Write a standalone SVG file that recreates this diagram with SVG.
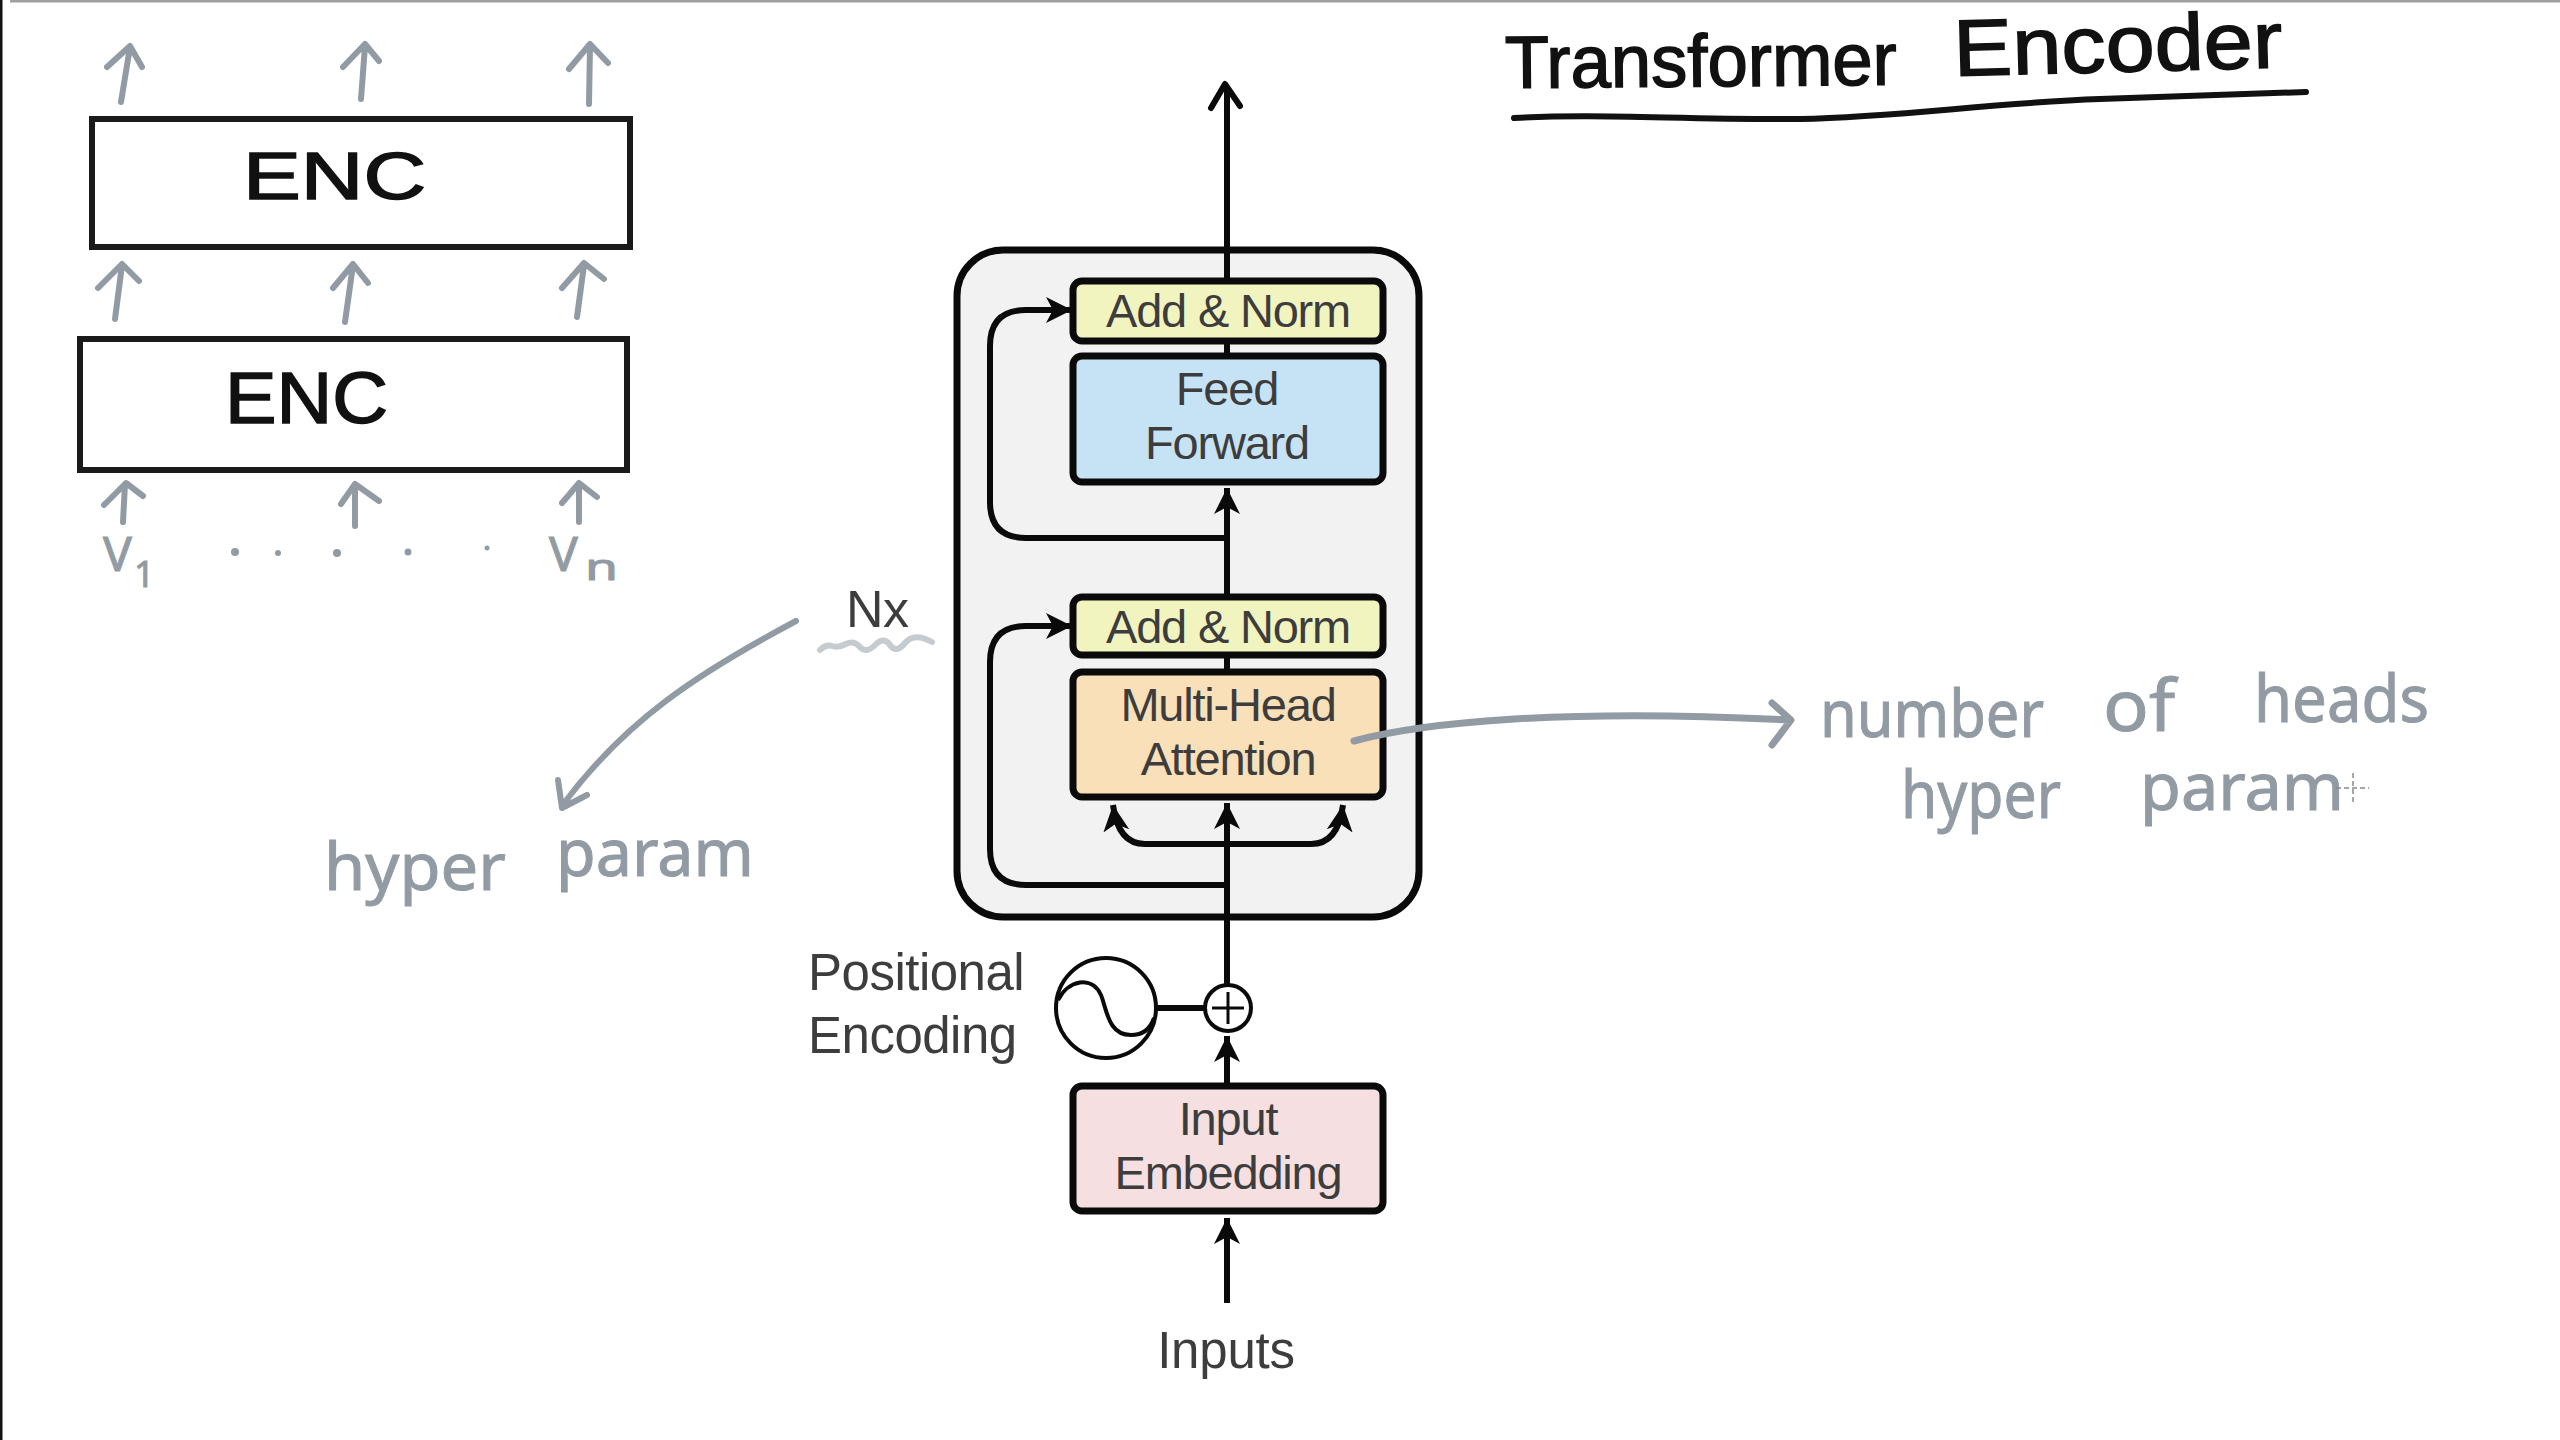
<svg xmlns="http://www.w3.org/2000/svg" width="2560" height="1440" viewBox="0 0 2560 1440">
<style>
.box{stroke:#0a0a0a;stroke-width:7}
.lbl{font-family:"Liberation Sans",Arial,sans-serif;fill:#3d3d3d;text-anchor:middle;font-size:47px;letter-spacing:-1.2px}
.lbl2{font-family:"Liberation Sans",Arial,sans-serif;fill:#3d3d3d;font-size:51px;letter-spacing:-.5px}
.wire{fill:none;stroke:#0a0a0a;stroke-width:6}
.enc{fill:#fff;stroke:#1a1a1a;stroke-width:6}
.g{fill:none;stroke:#929ba3;stroke-width:6;stroke-linecap:round;stroke-linejoin:round}
.hand{font-family:"Noto Sans",sans-serif;fill:#929ba3;font-size:66px;stroke:#929ba3;stroke-width:1}
.black{font-family:"Liberation Sans",sans-serif;fill:#111;stroke:#111;stroke-width:1.5}
</style>
<defs>
<marker id="ah" markerUnits="userSpaceOnUse" markerWidth="26" markerHeight="34" refX="30" refY="15" viewBox="0 0 30 30" orient="auto"><path d="M0 0L30 15L0 30L8 15Z" fill="#0a0a0a"/></marker>
</defs>
<rect width="2560" height="1440" fill="#fff"/>
<path d="M10 1H2560" stroke="#a0a0a0" stroke-width="3"/>
<path d="M1 0V1440" stroke="#111" stroke-width="3"/>
<g id="outer"><rect x="957" y="250" width="462" height="667" rx="46" fill="#f2f2f2" stroke="#0a0a0a" stroke-width="7"/></g>
<g id="connectors">
<path class="wire" d="M1227 1303V1218" marker-end="url(#ah)"/>
<path class="wire" d="M1227 1084V1036" marker-end="url(#ah)"/>
<path class="wire" d="M1227 985V803" marker-end="url(#ah)"/>
<path class="wire" d="M1227 595V488" marker-end="url(#ah)"/>
<path class="wire" d="M1227 341V356M1227 655V672"/>
<path class="wire" d="M1227 281V88"/>
<path class="wire" stroke-linecap="round" stroke-linejoin="round" stroke-width="5" d="M1211 108L1225 84L1240 106"/>
<path class="wire" d="M1227 538H1026Q990 538 990 502V346Q990 310 1026 310H1072" marker-end="url(#ah)"/>
<path class="wire" d="M1227 885H1026Q990 885 990 849V662Q990 626 1026 626H1072" marker-end="url(#ah)"/>
<path class="wire" d="M1227 844H1145Q1118 844 1113 805" marker-end="url(#ah)"/>
<path class="wire" d="M1227 844H1311Q1338 844 1343 805" marker-end="url(#ah)"/>
<path class="wire" d="M1156 1008H1205"/>
</g>
<g id="add-norm-top"><rect class="box" x="1073" y="281" width="310" height="60" rx="9" fill="#f2f4c0"/><text class="lbl" x="1228" y="327">Add &amp; Norm</text></g>
<g id="feed-forward"><rect class="box" x="1073" y="356" width="310" height="126" rx="9" fill="#c6e3f5"/><text class="lbl" x="1227" y="405">Feed</text><text class="lbl" x="1227" y="459">Forward</text></g>
<g id="add-norm-bottom"><rect class="box" x="1073" y="597" width="310" height="58" rx="9" fill="#f2f4c0"/><text class="lbl" x="1228" y="643">Add &amp; Norm</text></g>
<g id="multi-head"><rect class="box" x="1073" y="672" width="310" height="125" rx="9" fill="#f9e0b8"/><text class="lbl" x="1228" y="721">Multi-Head</text><text class="lbl" x="1228" y="775">Attention</text></g>
<g id="input-embedding"><rect class="box" x="1073" y="1086" width="310" height="125" rx="9" fill="#f5dfe0"/><text class="lbl" x="1228" y="1135">Input</text><text class="lbl" x="1228" y="1189">Embedding</text></g>
<g id="positional">
<text class="lbl2" x="808" y="990">Positional</text><text class="lbl2" x="808" y="1053">Encoding</text>
<circle cx="1106" cy="1008" r="50" fill="#fff" stroke="#0a0a0a" stroke-width="4"/>
<path d="M1058 1000C1068 980 1092 975 1101 995C1107 1010 1108 1035 1131 1035C1142 1035 1150 1030 1154 1018" fill="none" stroke="#0a0a0a" stroke-width="4"/>
</g>
<g id="add-circle"><circle cx="1228" cy="1008" r="23" fill="#fff" stroke="#0a0a0a" stroke-width="4"/><path d="M1212 1008H1244M1228 992V1024" stroke="#0a0a0a" stroke-width="3"/></g>
<g id="inputs"><text class="lbl2" x="1226" y="1368" text-anchor="middle" style="font-size:51px;letter-spacing:-.2px">Inputs</text></g>
<g id="nx"><text class="lbl2" x="846" y="627" style="font-size:52px">Nx</text><path d="M820 650Q826 644 832 646T846 644T860 647T875 645T890 645T905 643T932 642" fill="none" stroke="#c5cbce" stroke-width="6" stroke-linecap="round"/></g>
<g id="enc-top"><rect class="enc" x="92" y="119" width="538" height="128"/><text class="black" x="243" y="199" font-size="66" stroke-width="2" textLength="183" lengthAdjust="spacingAndGlyphs">ENC</text></g>
<g id="enc-bottom"><rect class="enc" x="80" y="339" width="547" height="131"/><text class="black" x="225" y="423" font-size="72" stroke-width="2" textLength="163" lengthAdjust="spacingAndGlyphs">ENC</text></g>
<g id="encoder-arrows">
<path class="g" d="M121 102L130 47M107 67L130 46L142 67"/>
<path class="g" d="M361 99L365 46M343 67L365 44L379 61"/>
<path class="g" d="M589 104L590 46M569 69L590 44L608 63"/>
<path class="g" d="M115 319L122 265M98 288L122 264L139 281"/>
<path class="g" d="M345 322L353 265M333 288L353 264L368 283"/>
<path class="g" d="M577 317L584 265M562 288L584 263L604 279"/>
<path class="g" d="M123 522L125 484M104 505L126 483L143 496"/>
<path class="g" d="M355 526V485M341 504L355 484L379 501"/>
<path class="g" d="M579 522V484M562 503L579 483L597 497"/>
</g>
<g id="vectors">
<text class="hand" x="103" y="571" style="font-size:48px">V</text><text class="hand" x="134" y="587" style="font-size:36px">1</text>
<text class="hand" x="549" y="571" style="font-size:48px">V</text><text class="hand" x="585" y="580" style="font-size:36px" textLength="33" lengthAdjust="spacingAndGlyphs">n</text>
<g fill="#929ba3"><circle cx="235" cy="552" r="4"/><circle cx="278" cy="553" r="3"/><circle cx="337" cy="553" r="4"/><circle cx="408" cy="552" r="3.5"/><circle cx="487" cy="548" r="2.5"/></g>
</g>
<g id="title">
<text class="black" font-size="74" stroke-width="2" x="1505" y="88" textLength="392" lengthAdjust="spacingAndGlyphs" transform="rotate(-.5 1505 88)">Transformer</text>
<text class="black" font-size="80" stroke-width="2" x="1954" y="76" textLength="329" lengthAdjust="spacingAndGlyphs" transform="rotate(-1.5 1954 76)">Encoder</text>
<path d="M1514 118C1600 113 1680 120 1800 119C1900 117 1990 103 2100 99L2306 92" fill="none" stroke="#111" stroke-width="6" stroke-linecap="round"/>
</g>
<g id="annotation-nx">
<path class="g" d="M796 621C700 672 625 720 562 806M558 780L562 808L587 795"/>
<text class="hand" x="324" y="890" textLength="182" lengthAdjust="spacingAndGlyphs">hyper</text>
<text class="hand" x="556" y="876" textLength="198" lengthAdjust="spacingAndGlyphs">param</text>
</g>
<g id="annotation-heads">
<path class="g" d="M1354 741C1420 723 1560 708 1790 720M1772 703L1791 720L1772 745" style="stroke-width:7"/>
<text class="hand" x="1820" y="737" textLength="224" lengthAdjust="spacingAndGlyphs">number</text>
<text class="hand" x="2103" y="731" font-size="72" textLength="72" lengthAdjust="spacingAndGlyphs" style="font-size:72px">of</text>
<text class="hand" x="2254" y="722" textLength="175" lengthAdjust="spacingAndGlyphs">heads</text>
<text class="hand" x="1901" y="818" textLength="160" lengthAdjust="spacingAndGlyphs">hyper</text>
<text class="hand" x="2140" y="810" textLength="204" lengthAdjust="spacingAndGlyphs">param</text>
</g>
<path d="M2353 773V803M2336 788H2369" stroke="#8a8a8a" stroke-width="1.5" stroke-dasharray="5 3" fill="none"/>
</svg>
